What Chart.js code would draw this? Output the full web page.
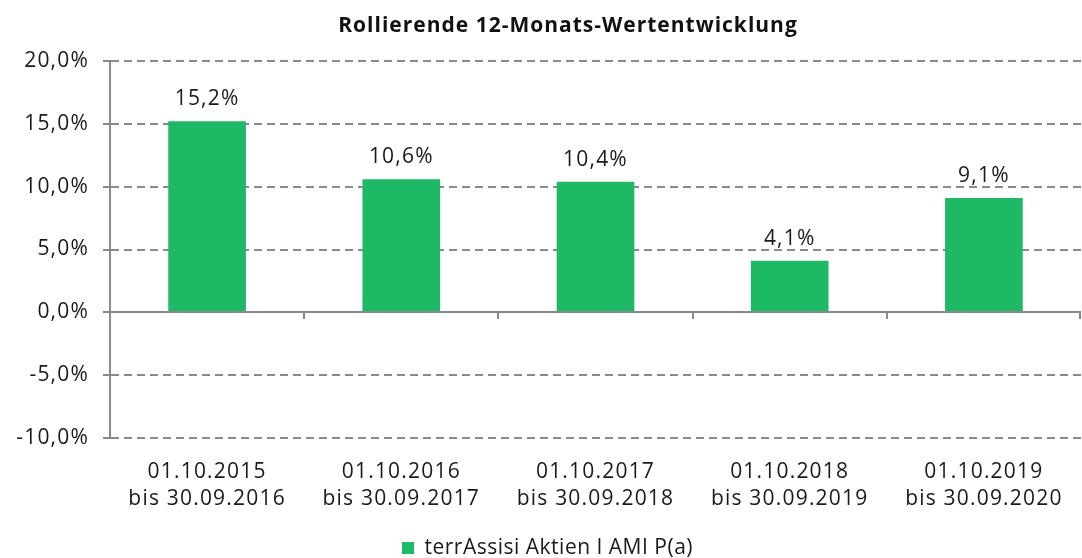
<!DOCTYPE html>
<html><head><meta charset="utf-8">
<script src="https://cdn.jsdelivr.net/npm/chart.js@4.4.1/dist/chart.umd.min.js"></script>
<style>html,body{margin:0;padding:0;background:#fff}#wrap{width:1082px;height:558px;position:relative}</style>
</head><body><div id="wrap"><canvas id="c" width="1082" height="558"></canvas></div>
<script>
const chartTitle = "Rollierende 12-Monats-Wertentwicklung";
const categories = [
  ["01.10.2015", "bis 30.09.2016"],
  ["01.10.2016", "bis 30.09.2017"],
  ["01.10.2017", "bis 30.09.2018"],
  ["01.10.2018", "bis 30.09.2019"],
  ["01.10.2019", "bis 30.09.2020"]
];
const seriesName = "terrAssisi Aktien I AMI P(a)";
const seriesValues = [15.2, 10.6, 10.4, 4.1, 9.1];
const yMin = -10, yMax = 20, yStep = 5;

const FONT = "'Open Sans', 'Noto Sans', sans-serif";
const LS = '1.2px';
const LS_LEGEND = '0.5px';
const GRID = '#8a8a8a';
const TEXT = '#1a1a1a';
const BAR = '#1db964';
const fmt = v => v.toFixed(1).replace('.', ',') + '%';

const deco = {
  id: 'deco',
  beforeUpdate(chart) { chart.ctx.letterSpacing = LS_LEGEND; },
  beforeLayout(chart) { chart.ctx.letterSpacing = LS_LEGEND; },
  afterLayout(chart) {
    const lg = chart.legend;
    if (lg) {
      lg.top += 10.5; lg.bottom += 10.5;
      lg.left += 7; lg.right += 7;
      if (!lg._lsWrapped) {
        const orig = lg.draw;
        lg.draw = function () {
          const c = this.ctx;
          c.letterSpacing = LS_LEGEND;
          orig.apply(this, arguments);
          c.letterSpacing = LS;
        };
        lg._lsWrapped = true;
      }
    }
  },
  beforeDraw(chart) { chart.ctx.letterSpacing = LS; },
  afterDatasetsDraw(chart) {
    const ctx = chart.ctx;
    const x = chart.scales.x, y = chart.scales.y;
    const a = chart.chartArea;
    const y0 = Math.round(y.getPixelForValue(0));
    ctx.save();
    ctx.strokeStyle = GRID; ctx.lineWidth = 2; ctx.setLineDash([]);
    ctx.beginPath(); ctx.moveTo(a.left, y0); ctx.lineTo(a.right, y0); ctx.stroke();
    const n = categories.length;
    for (let i = 1; i <= n; i++) {
      let bx = i < n ? (x.getPixelForValue(i - 1) + x.getPixelForValue(i)) / 2 : a.right - 1;
      bx = Math.round(bx);
      ctx.beginPath(); ctx.moveTo(bx, y0); ctx.lineTo(bx, y0 + 7); ctx.stroke();
    }
    ctx.letterSpacing = LS;
    ctx.fillStyle = TEXT;
    ctx.font = "21px " + FONT;
    ctx.textAlign = 'center';
    ctx.textBaseline = 'alphabetic';
    const meta = chart.getDatasetMeta(0);
    meta.data.forEach((bar, i) => {
      ctx.fillText(fmt(seriesValues[i]), bar.x, bar.y - 16);
    });
    ctx.letterSpacing = '1px';
    ctx.font = "bold 21px " + FONT;
    ctx.fillStyle = '#111';
    ctx.fillText(chartTitle, 568, 32);
    ctx.restore();
  }
};

new Chart(document.getElementById('c'), {
  type: 'bar',
  data: {
    labels: categories,
    datasets: [{
      label: seriesName,
      data: seriesValues,
      backgroundColor: BAR,
      borderWidth: 0,
      barPercentage: 0.4,
      categoryPercentage: 1.0
    }]
  },
  options: {
    responsive: false,
    animation: false,
    devicePixelRatio: 1,
    layout: { padding: { top: 61, left: 0, right: 1, bottom: 0 } },
    plugins: {
      title: { display: false },
      tooltip: { enabled: false },
      legend: {
        display: true,
        position: 'bottom',
        labels: {
          color: TEXT,
          font: { family: FONT, size: 21 },
          boxWidth: 12, boxHeight: 12,
          padding: 10
        }
      }
    },
    scales: {
      x: {
        grid: { display: false },
        border: { display: false },
        ticks: {
          color: TEXT,
          font: { family: FONT, size: 21, lineHeight: 27 / 21 },
          padding: 13,
          maxRotation: 0,
          autoSkip: false
        },
        afterFit(s) { s.height = 79; }
      },
      y: {
        min: yMin, max: yMax,
        grid: {
          color: GRID, lineWidth: 2,
          drawTicks: true, tickLength: 7, tickColor: GRID, tickWidth: 2, tickBorderDash: []
        },
        border: {
          display: true, color: GRID, width: 2,
          dash: c => (c.type === 'tick' && c.tick && c.tick.value !== 0) ? [8, 5] : []
        },
        ticks: {
          stepSize: yStep,
          color: TEXT,
          font: { family: FONT, size: 21 },
          padding: 14,
          callback: v => fmt(v)
        },
        afterFit(s) { s.width = 110; }
      }
    }
  },
  plugins: [deco]
});
</script>
</body></html>
